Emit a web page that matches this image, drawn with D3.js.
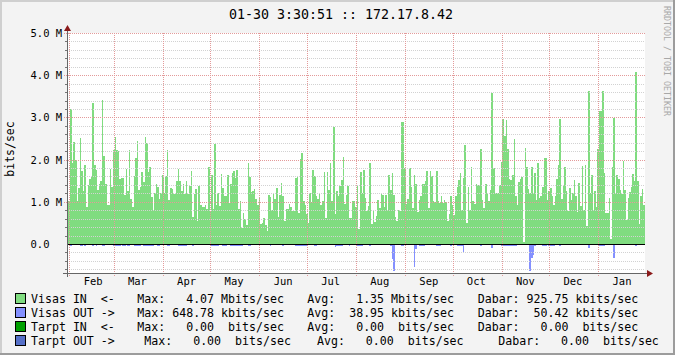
<!DOCTYPE html>
<html lang="en">
<head>
<meta charset="UTF-8">
<title>172.17.8.42 traffic</title>
<script src="https://d3js.org/d3.v7.min.js"></script>
<style>
  body { margin: 0; background: #fff; }
  text { font-family: "DejaVu Sans Mono", monospace; white-space: pre; }
</style>
</head>
<body>
<div id="graph"></div>
<script>
// one value per day, Mbits/sec, starting 01-30
const visasIn = [
  1.03, 1.03, 3.20, 1.92, 2.42, 1.98, 1.01, 1.33, 2.51, 1.72,
  1.25, 1.87, 0.88, 1.39, 1.54, 1.61, 3.34, 1.87, 1.75, 1.28,
  1.41, 1.49, 3.41, 2.09, 1.41, 0.92, 0.92, 1.78, 1.35, 2.23,
  2.54, 2.23, 2.21, 1.54, 1.56, 1.56, 1.15, 1.78, 1.26, 2.23,
  1.07, 0.88, 1.61, 2.04, 2.44, 1.28, 1.35, 1.71, 1.48, 2.54,
  2.39, 1.71, 1.82, 1.11, 0.79, 1.21, 1.42, 1.35, 1.07, 1.21,
  1.64,
  1.21, 1.61, 2.23, 1.04, 1.33, 1.30, 1.19, 1.19, 1.49, 1.78,
  1.49, 1.25, 1.42, 1.19, 1.49, 1.19, 1.37, 1.73, 0.63, 1.19,
  1.30, 0.55, 1.37, 0.92, 0.88, 0.88, 0.92, 0.83, 1.82, 0.79,
  1.64, 0.83, 2.37, 0.93, 1.21, 0.90, 1.67, 1.33, 1.14, 1.14,
  1.64, 0.96, 1.42, 1.68, 1.73, 1.56, 1.75, 0.83, 1.02, 0.38,
  0.73, 0.59, 0.45, 1.92, 1.59, 1.23, 1.26, 1.30, 1.07, 0.93,
  1.09,
  0.47, 0.50, 0.62, 0.45, 0.31, 1.15, 1.12, 0.81, 1.21, 1.07,
  1.33, 0.64, 1.15, 1.45, 1.14, 0.55, 0.83, 0.83, 0.95, 0.88,
  0.78, 0.78, 1.56, 1.59, 0.73, 2.01, 2.16, 1.02, 0.92, 0.71,
  0.50, 1.21, 1.00, 1.75, 1.61, 1.14, 1.07, 1.21, 0.92, 1.02,
  1.71, 0.62, 1.71, 1.28, 1.92, 1.02, 2.77, 0.71, 1.26, 1.14,
  1.37, 1.52, 2.06, 0.95, 1.17, 1.37, 0.62, 0.62, 1.02, 1.02,
  0.88,
  1.40, 0.36, 1.71, 1.21, 1.75, 1.09, 0.78, 0.90, 1.92, 0.47,
  0.78, 0.52, 0.66, 1.04, 0.85, 1.18, 1.17, 0.88, 1.16, 0.81,
  1.64, 1.28, 1.68, 1.16, 0.64, 0.55, 0.81, 0.78, 2.89, 2.89,
  1.80, 0.95, 1.07, 1.80, 1.35, 0.85, 1.64, 1.42, 0.76, 1.04,
  1.14, 1.42, 1.42, 1.49, 1.73, 0.85, 1.73, 1.61, 1.02, 0.99,
  1.73, 1.02, 0.97, 1.14, 0.97, 1.04, 0.99, 0.55, 0.71, 1.14,
  0.92,
  0.69, 1.14, 1.35, 1.52, 1.68, 0.81, 1.56, 2.35, 0.50, 1.35,
  0.81, 1.82, 1.02, 0.95, 1.42, 1.40, 1.40, 2.25, 1.04, 0.85,
  1.42, 1.18, 1.02, 1.28, 3.58, 1.80, 1.21, 1.21, 1.21, 1.40,
  1.94, 2.96, 2.56, 2.94, 2.25, 1.54, 1.52, 1.64, 2.49, 1.14,
  0.92, 1.47, 1.54, 1.59, 0.05, 2.27, 1.82, 1.30, 1.21, 1.82,
  1.21, 1.68, 1.04, 1.92, 1.09, 1.14, 1.35, 2.04, 2.04, 1.04,
  1.26, 1.33, 1.14, 0.92, 1.14, 1.54, 1.87, 2.96, 1.07, 1.37,
  1.82, 1.26, 0.78, 1.33, 1.04, 1.21, 1.52, 1.14, 0.76, 1.45,
  0.90, 1.85, 0.81, 1.87, 0.43, 3.63, 1.21, 1.64, 0.81, 1.26,
  0.88, 2.25, 3.15, 3.15, 3.63, 1.68, 0.73, 0.73, 1.09, 0.12,
  1.82, 2.99, 1.18, 1.64, 1.54, 1.28, 1.18, 1.97, 1.28, 0.57,
  1.09, 1.23, 1.35, 1.66, 1.49, 4.07, 1.49, 0.47, 1.14, 1.30,
  0.92
];

const visasOut = [
  .02,.02,.06,.02,.03,.02,.02,.02,.04,.04, .02,.04,.02,.02,.02,.02,.06,.02,.04,.02,
  .02,.02,.04,.04,.02,.02,.02,.02,.02,.04, .04,.04,.04,.04,.02,.04,.04,.02,.04,.04,
  .02,.02,.04,.04,.04,.04,.04,.02,.04,.04, .04,.04,.04,.04,.04,.02,.02,.04,.04,.02,
  .02,
  .02,.02,.04,.04,.02,.02,.02,.02,.02,.04, .04,.04,.04,.04,.04,.02,.02,.02,.06,.02,
  .02,.02,.02,.02,.02,.02,.02,.02,.02,.04, .04,.04,.04,.04,.04,.02,.02,.04,.04,.04,
  .02,.02,.04,.04,.04,.04,.04,.04,.04,.04, .02,.02,.02,.04,.04,.02,.02,.02,.02,.02,
  .02,
  .02,.02,.02,.02,.02,.02,.05,.02,.02,.02, .02,.02,.02,.02,.04,.02,.02,.02,.02,.02,
  .02,.02,.04,.04,.04,.04,.04,.04,.04,.04, .02,.02,.02,.02,.04,.04,.02,.02,.02,.02,
  .02,.02,.02,.02,.02,.02,.02,.07,.04,.04, .04,.04,.02,.02,.02,.02,.04,.02,.02,.02,
  .02,
  .04,.04,.04,.04,.02,.02,.02,.02,.04,.02, .02,.02,.02,.02,.02,.02,.02,.02,.02,.02,
  .02,.06,.35,.649,.02,.02,.02,.02,.04,.04, .02,.02,.02,.02,.02,.02,.54,.11,.02,.04,
  .04,.04,.04,.02,.02,.02,.02,.02,.02,.02, .04,.04,.04,.02,.02,.02,.02,.02,.02,.04,
  .02,
  .02,.02,.04,.04,.04,.04,.19,.02,.02,.02, .02,.02,.02,.02,.02,.02,.02,.05,.02,.02,
  .02,.02,.02,.02,.09,.02,.02,.02,.02,.02, .04,.04,.04,.04,.04,.04,.04,.04,.04,.04,
  .02,.02,.02,.02,.02,.02,.02,.02,.63,.33, .26,.05,.02,.02,.02,.02,.04,.04,.04,.02,
  .04,.04,.04,.04,.02,.02,.02,.06,.02,.02, .02,.02,.02,.02,.02,.02,.02,.02,.02,.02,
  .02,.02,.02,.02,.02,.09,.02,.02,.02,.02, .02,.02,.05,.05,.05,.05,.02,.02,.02,.02,
  .02,.33,.02,.02,.02,.02,.02,.02,.02,.02, .02,.02,.02,.02,.02,.06,.02,.02,.02,.02,
  .02
];

const legendNames = ["Visas IN  <-", "Visas OUT ->", "Tarpt IN  <-", "Tarpt OUT ->"];
const legendColors = ["#80dc80", "#8490ff", "#00a000", "#5670c8"];
const statMax = [4.07e6, 648.78e3, 0, 0];
const statAvg = [1.35e6, 38.95e3, 0, 0];
const statLast = [925.75e3, 50.42e3, 0, 0];
const title = "01-30 3:30:51 :: 172.17.8.42";

const W = 675, H = 355;
const svg = d3.select("#graph").append("svg")
    .attr("width", W).attr("height", H);

// canvas
svg.append("rect").attr("width", W).attr("height", H).attr("fill", "#f3f3f3");
svg.append("path").attr("d", `M1,${H} V1 H${W}`).attr("stroke", "#cfcfcf").attr("stroke-width", 2).attr("fill", "none");
svg.append("path").attr("d", `M0,${H-1} H${W-1} V0`).attr("stroke", "#9c9c9c").attr("stroke-width", 2).attr("fill", "none");

const start = new Date(Date.UTC(2009, 0, 30, 12));
const end = new Date(Date.UTC(2010, 0, 30, 12));
const x = d3.scaleUtc().domain([start, end]).range([67, 645]);
const y = d3.scaleLinear().domain([-0.7e6, 5e6]).range([273.5, 33]);

svg.append("rect").attr("x", 67).attr("y", 33).attr("width", 578).attr("height", 240.5).attr("fill", "#fff");

const days = visasIn.map((v, i) => ({t: d3.utcDay.offset(start, i), vin: v * 1e6, vout: visasOut[i] * 1e6}));
days.push({t: end, vin: days[days.length - 1].vin, vout: days[days.length - 1].vout});

svg.append("path").datum(days)
    .attr("fill", legendColors[0])
    .attr("shape-rendering", "crispEdges")
    .attr("d", d3.area().curve(d3.curveStepAfter).x(d => x(d.t)).y0(y(0)).y1(d => y(d.vin)));
svg.append("path").datum(days)
    .attr("fill", legendColors[1])
    .attr("shape-rendering", "crispEdges")
    .attr("d", d3.area().curve(d3.curveStepAfter).x(d => x(d.t)).y0(y(0)).y1(d => y(-d.vout)));

// grid
const minor = d3.range(-0.6e6, 5.01e6, 0.2e6).filter(v => Math.abs(v % 1e6) > 1);
const major = d3.range(1e6, 5.01e6, 1e6);
const grid = svg.append("g").attr("shape-rendering", "crispEdges").attr("stroke-width", 1);
grid.selectAll(".mi").data(minor).join("line")
    .attr("x1", 67).attr("x2", 645).attr("y1", d => Math.round(y(d)) + 0.5).attr("y2", d => Math.round(y(d)) + 0.5)
    .attr("stroke", "#d2d2d2").attr("stroke-dasharray", "1,1");
grid.selectAll(".tk").data(minor).join("line")
    .attr("x1", 65).attr("x2", 67).attr("y1", d => Math.round(y(d)) + 0.5).attr("y2", d => Math.round(y(d)) + 0.5)
    .attr("stroke", "#777");
const months = d3.utcMonth.range(start, end);
grid.selectAll(".mv").data(months).join("line")
    .attr("x1", d => Math.round(x(d)) + 0.5).attr("x2", d => Math.round(x(d)) + 0.5)
    .attr("y1", 33).attr("y2", 276)
    .attr("stroke", "#e39a9a").attr("stroke-dasharray", "1,1");
grid.selectAll(".ma").data(major).join("line")
    .attr("x1", 64).attr("x2", 645).attr("y1", d => Math.round(y(d)) + 0.5).attr("y2", d => Math.round(y(d)) + 0.5)
    .attr("stroke", "#e39a9a").attr("stroke-dasharray", "1,1");

// zero line
svg.append("line").attr("x1", 67).attr("x2", 645)
    .attr("y1", Math.round(y(0)) + 0.5).attr("y2", Math.round(y(0)) + 0.5)
    .attr("stroke", "#000").attr("shape-rendering", "crispEdges");

// axes
svg.append("line").attr("x1", 63).attr("x2", 648).attr("y1", 273.5).attr("y2", 273.5)
    .attr("stroke", "#666").attr("shape-rendering", "crispEdges");
svg.append("line").attr("x1", 67.5).attr("x2", 67.5).attr("y1", 277).attr("y2", 30)
    .attr("stroke", "#666").attr("shape-rendering", "crispEdges");
svg.append("path").attr("d", "M647,270 L653,273.5 L647,277 Z").attr("fill", "#8b1a1a");
svg.append("path").attr("d", "M64,31 L67.5,25 L71,31 Z").attr("fill", "#8b1a1a");

// y labels
svg.append("g").selectAll("text").data(d3.range(0, 5.01e6, 1e6)).join("text")
    .attr("x", 30.5).attr("y", d => y(d) + 4)
    .attr("font-size", "10.5px").attr("fill", "#000")
    .text(d => d === 0 ? "0.0" : (d / 1e6).toFixed(1) + " M");

// month labels, centred in each month
svg.append("g").selectAll("text").data(months).join("text")
    .attr("x", d => x(d3.utcDay.offset(d, 15))).attr("y", 285)
    .attr("text-anchor", "middle").attr("font-size", "10.5px").attr("fill", "#000")
    .text(d => d3.utcFormat("%b")(d));

svg.append("text").attr("transform", "translate(14,149) rotate(-90)")
    .attr("text-anchor", "middle").attr("font-size", "11.5px").attr("fill", "#000")
    .text("bits/sec");

svg.append("text").attr("x", 341).attr("y", 19).attr("text-anchor", "middle")
    .attr("font-size", "13.3px").attr("fill", "#000").text(title);

svg.append("text").attr("transform", "translate(663.5,6) rotate(90)")
    .attr("font-size", "8.3px").attr("fill", "#a8a8a8")
    .text("RRDTOOL / TOBI OETIKER");

// legend
const fmt = (lbl, v) => {
  const p = v >= 1e6 ? [v / 1e6, "M"] : v >= 1e3 ? [v / 1e3, "k"] : [v, " "];
  return lbl + " " + p[0].toFixed(2).padStart(6) + " " + p[1] + "bits/sec";
};
const colX = [[137.3, 307.3, 477.7], [137.3, 307.3, 477.7], [137.3, 307.3, 477.7], [144.3, 317, 498.3]];
const leg = svg.append("g");
legendNames.forEach((name, i) => {
  const cy = 299 + i * 14;
  leg.append("rect").attr("x", 15.5).attr("y", cy - 5.5).attr("width", 10).attr("height", 10)
      .attr("fill", legendColors[i]).attr("stroke", "#000").attr("shape-rendering", "crispEdges");
  const parts = [fmt("Max:", statMax[i]), fmt("Avg:", statAvg[i]), fmt("Dabar:", statLast[i])];
  leg.append("text").attr("x", 31).attr("y", cy + 4).attr("font-size", "11.6px").text(name);
  parts.forEach((s, j) => {
    leg.append("text").attr("x", colX[i][j]).attr("y", cy + 4).attr("font-size", "11.6px").text(s);
  });
});
</script>
</body>
</html>
